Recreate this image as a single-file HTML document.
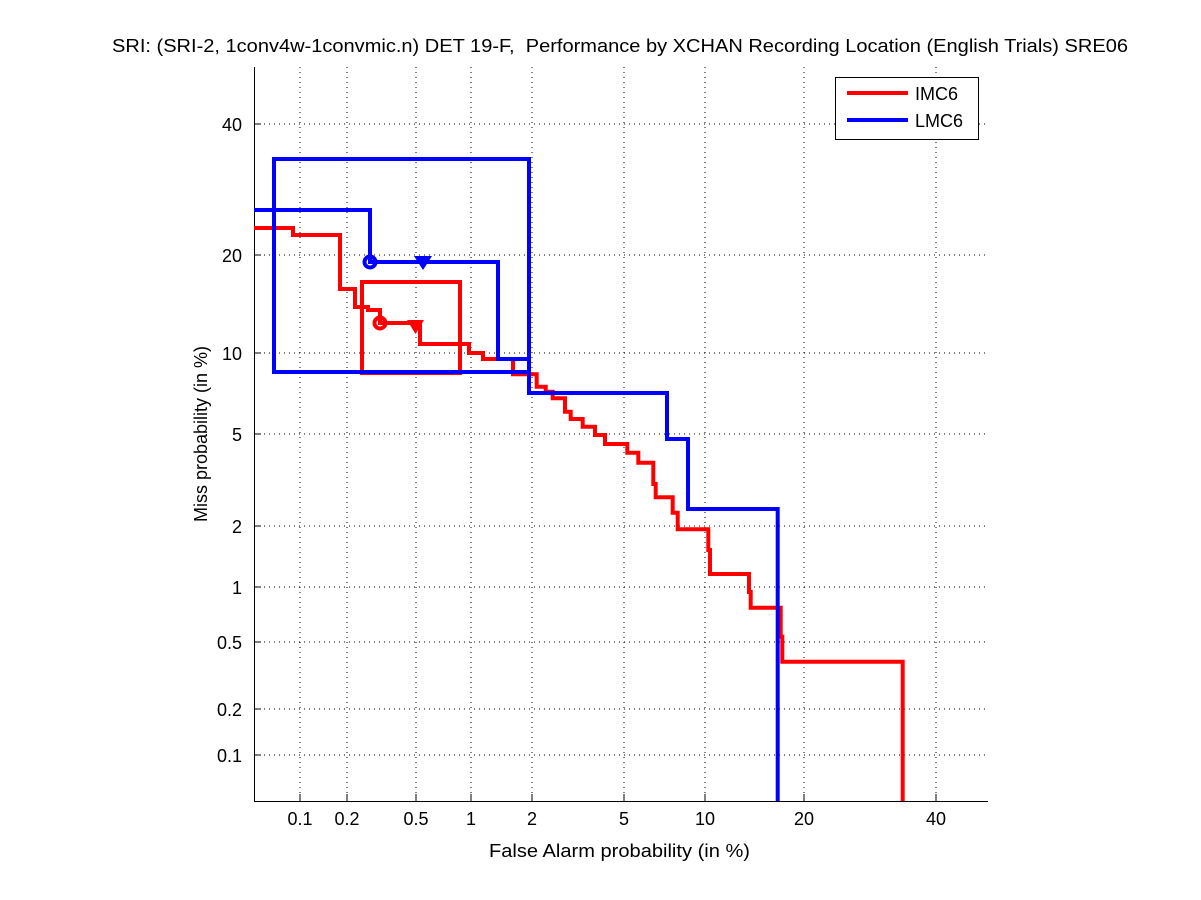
<!DOCTYPE html>
<html><head><style>body{margin:0;background:#fff}svg{display:block}text{font-family:"Liberation Sans",sans-serif;fill:#000}</style></head><body>
<svg width="1201" height="900" viewBox="0 0 1201 900">
<rect width="1201" height="900" fill="#fff"/>
<g stroke="#000" stroke-width="1" stroke-dasharray="1,4">
<line x1="300" y1="67" x2="300" y2="801"/><line x1="347" y1="67" x2="347" y2="801"/><line x1="416" y1="67" x2="416" y2="801"/><line x1="471" y1="67" x2="471" y2="801"/><line x1="532" y1="67" x2="532" y2="801"/><line x1="624" y1="67" x2="624" y2="801"/><line x1="705" y1="67" x2="705" y2="801"/><line x1="804" y1="67" x2="804" y2="801"/><line x1="936" y1="67" x2="936" y2="801"/>
<line x1="254" y1="124" x2="988" y2="124"/><line x1="254" y1="255" x2="988" y2="255"/><line x1="254" y1="353" x2="988" y2="353"/><line x1="254" y1="434" x2="988" y2="434"/><line x1="254" y1="526" x2="988" y2="526"/><line x1="254" y1="587" x2="988" y2="587"/><line x1="254" y1="642" x2="988" y2="642"/><line x1="254" y1="709" x2="988" y2="709"/><line x1="254" y1="755" x2="988" y2="755"/>
</g>
<g stroke="#000" stroke-width="1">
<line x1="254.5" y1="67" x2="254.5" y2="801"/><line x1="254" y1="801.5" x2="988" y2="801.5"/>
<path d="M300 801v-7M347 801v-7M416 801v-7M471 801v-7M532 801v-7M624 801v-7M705 801v-7M804 801v-7M936 801v-7M254 124h7M254 255h7M254 353h7M254 434h7M254 526h7M254 587h7M254 642h7M254 709h7M254 755h7"/>
</g>
<g font-size="18" text-anchor="middle">
<text x="300" y="825">0.1</text><text x="347" y="825">0.2</text><text x="416" y="825">0.5</text><text x="471" y="825">1</text><text x="532" y="825">2</text><text x="624" y="825">5</text><text x="705" y="825">10</text><text x="804" y="825">20</text><text x="936" y="825">40</text>
</g>
<g font-size="18" text-anchor="end">
<text x="242" y="131">40</text><text x="242" y="262">20</text><text x="242" y="360">10</text><text x="242" y="441">5</text><text x="242" y="533">2</text><text x="242" y="594">1</text><text x="242" y="649">0.5</text><text x="242" y="716">0.2</text><text x="242" y="762">0.1</text>
</g>
<text x="112" y="52" font-size="18" textLength="1016" lengthAdjust="spacingAndGlyphs" xml:space="preserve">SRI: (SRI-2, 1conv4w-1convmic.n) DET 19-F,  Performance by XCHAN Recording Location (English Trials) SRE06</text>
<text x="489" y="857" font-size="18" textLength="261" lengthAdjust="spacingAndGlyphs">False Alarm probability (in %)</text>
<text transform="translate(207,434) rotate(-90)" font-size="18" text-anchor="middle">Miss probability (in %)</text>
<g fill="none" stroke-width="4" stroke-linejoin="miter">
<path stroke="#f00" d="M254 228H293V235H340V289H355V307H368V310H380V323H420V344H469V353H483V359H513V374.3H536.7V386.7H545.7V391.7H552.7V398.3H565V411.7H570.7V419H582.7V426.7H595V435H605V444H627.3V452.7H638.3V462.7H653.3V484H655.7V497.3H672.7V512.7H677.7V529.3H708.3V550H710V574H749V592H750.7V607.7H780.7V636.7H782.3V661.7H902.7V801"/>
<rect stroke="#f00" x="362" y="282" width="98" height="91"/>
<circle stroke="#f00" cx="380" cy="323" r="5.5"/>
<rect stroke="#00f" x="274" y="159" width="255" height="213"/>
<path stroke="#00f" d="M254 210H370V262H498V359H529V393H667V439H688V509H777.7V801"/>
<circle stroke="#00f" cx="370" cy="262" r="5.5"/>
</g>
<path fill="#f00" d="M407 320H424L415.5 334Z"/>
<path fill="#00f" d="M414 256H432L423 270Z"/>
<rect x="835.5" y="77.5" width="143" height="62" fill="#fff" stroke="#000"/>
<line x1="847" y1="93" x2="908" y2="93" stroke="#f00" stroke-width="4"/>
<line x1="847" y1="120" x2="908" y2="120" stroke="#00f" stroke-width="4"/>
<text x="915" y="100" font-size="18">IMC6</text>
<text x="915" y="127" font-size="18">LMC6</text>
</svg>
</body></html>
